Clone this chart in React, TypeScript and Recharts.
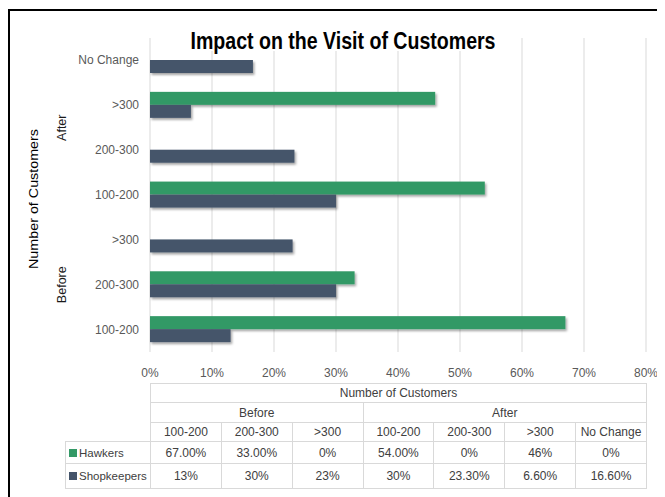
import React from 'react';
import { BarChart, Bar, XAxis, YAxis, CartesianGrid } from 'recharts';

const groups = ['Before', 'Before', 'Before', 'After', 'After', 'After', 'After'];
const categories = ['100-200', '200-300', '>300', '100-200', '200-300', '>300', 'No Change'];
const hawkers = [67, 33, 0, 54, 0, 46, 0];
const shopkeepers = [13, 30, 23, 30, 23.3, 6.6, 16.6];
const hawkersLabels = ['67.00%', '33.00%', '0%', '54.00%', '0%', '46%', '0%'];
const shopkeepersLabels = ['13%', '30%', '23%', '30%', '23.30%', '6.60%', '16.60%'];
const xTicks = [0, 10, 20, 30, 40, 50, 60, 70, 80];
const seriesNames = ['Hawkers', 'Shopkeepers'];
const groupNames = ['Before', 'After'];
const title = 'Impact on the Visit of Customers';
const axisTitle = 'Number of Customers';

const GREEN = '#339966';
const DARK = '#44546A';
const FONT = '"Liberation Sans", Arial, sans-serif';
const GRID = '#d9d9d9';

// chart data top-to-bottom (reverse of table order)
const chartData = categories
  .map((c, i) => ({
    id: `${groups[i]}|${c}`,
    category: c,
    group: groups[i],
    hawkers: hawkers[i],
    shopkeepers: shopkeepers[i],
  }))
  .reverse();

const CHART_W = 657;
const CHART_H = 380;
const MARGIN = { top: 30, right: 19, left: 0, bottom: 6 };
const Y_W = 142;
const X_H = 30;
const PLOT_W = CHART_W - MARGIN.left - MARGIN.right - Y_W;

const stash: Record<number, number> = {};

function YTick(props: any) {
  const { x, y, payload, index } = props;
  const d = chartData.find((r) => r.id === payload.value) || chartData[index];
  stash[index] = y;
  const parts: React.ReactNode[] = [
    <text key="c" x={x} y={y} dy={4} textAnchor="end" fontFamily={FONT} fontSize={12} fill="#595959">
      {d.category}
    </text>,
  ];
  const isLast = index === chartData.length - 1 || chartData[index + 1].group !== d.group;
  if (isLast) {
    let first = index;
    while (first > 0 && chartData[first - 1].group === d.group) first--;
    const mid = ((stash[first] ?? y) + y) / 2;
    const gx = x - 77;
    parts.push(
      <text
        key="g"
        x={gx}
        y={mid}
        transform={`rotate(-90, ${gx}, ${mid})`}
        textAnchor="middle"
        dominantBaseline="central"
        fontFamily={FONT}
        fontSize={12.5}
        fill="#1a1a1a"
      >
        {d.group}
      </text>
    );
  }
  if (index === chartData.length - 1) {
    const mid = ((stash[0] ?? y) + y) / 2 + 4;
    const nx = x - 106;
    parts.push(
      <text
        key="n"
        x={nx}
        y={mid}
        transform={`rotate(-90, ${nx}, ${mid})`}
        textAnchor="middle"
        dominantBaseline="central"
        fontFamily={FONT}
        fontSize={13}
        fill="#000"
        textLength={140}
        lengthAdjust="spacingAndGlyphs"
      >
        {axisTitle}
      </text>
    );
  }
  return <g>{parts}</g>;
}

const ShadowRect = (p: any) => {
  if (!p.width || p.width <= 0) return <g />;
  return <rect x={p.x} y={p.y} width={p.width} height={p.height} fill={p.fill} filter="url(#barShadow)" />;
};

const cellBorder = `1px solid ${GRID}`;
const colW = PLOT_W / categories.length;

function DataTable() {
  const td: React.CSSProperties = {
    border: cellBorder,
    padding: 0,
    textAlign: 'center',
    fontFamily: FONT,
    fontSize: 12,
    color: '#404040',
    whiteSpace: 'nowrap',
    overflow: 'hidden',
  };
  const blank: React.CSSProperties = { border: 'none', padding: 0 };
  const beforeCount = groups.filter((g) => g === groupNames[0]).length;
  const afterCount = groups.filter((g) => g === groupNames[1]).length;
  const legendCell = (name: string, color: string): React.ReactNode => (
    <td style={{ ...td, textAlign: 'left', paddingLeft: 3, fontSize: 11.5 }}>
      <span
        style={{ display: 'inline-block', width: 8, height: 8, background: color, marginRight: 2, verticalAlign: 0 }}
      />
      {name}
    </td>
  );
  return (
    <table
      style={{
        position: 'absolute',
        left: 57,
        top: 375,
        borderCollapse: 'collapse',
        tableLayout: 'fixed',
        width: 85 + PLOT_W,
      }}
    >
      <colgroup>
        <col style={{ width: 85 }} />
        {categories.map((_, i) => (
          <col key={i} style={{ width: colW }} />
        ))}
      </colgroup>
      <tbody>
        <tr style={{ height: 19 }}>
          <td style={blank} />
          <td style={td} colSpan={categories.length}>
            {axisTitle}
          </td>
        </tr>
        <tr style={{ height: 20 }}>
          <td style={blank} />
          <td style={td} colSpan={beforeCount}>
            {groupNames[0]}
          </td>
          <td style={td} colSpan={afterCount}>
            {groupNames[1]}
          </td>
        </tr>
        <tr style={{ height: 19 }}>
          <td style={blank} />
          {categories.map((c, i) => (
            <td key={i} style={td}>
              {c}
            </td>
          ))}
        </tr>
        <tr style={{ height: 22 }}>
          {legendCell(seriesNames[0], GREEN)}
          {hawkersLabels.map((v, i) => (
            <td key={i} style={td}>
              {v}
            </td>
          ))}
        </tr>
        <tr style={{ height: 25 }}>
          {legendCell(seriesNames[1], DARK)}
          {shopkeepersLabels.map((v, i) => (
            <td key={i} style={td}>
              {v}
            </td>
          ))}
        </tr>
      </tbody>
    </table>
  );
}

export default function App() {
  return (
    <div style={{ position: 'relative', width: 657, height: 489, overflow: 'hidden', background: '#fff' }}>
      <BarChart
        width={CHART_W}
        height={CHART_H}
        data={chartData}
        layout="vertical"
        margin={MARGIN}
        barSize={13}
        barGap={0}
      >
        <defs>
          <filter id="barShadow" x="-10%" y="-30%" width="130%" height="180%">
            <feDropShadow dx={1.5} dy={2} stdDeviation={1.3} floodColor="#000" floodOpacity={0.35} />
          </filter>
        </defs>
        <CartesianGrid horizontal={false} stroke={GRID} />
        <XAxis
          type="number"
          domain={[0, 80]}
          ticks={xTicks}
          height={X_H}
          axisLine={false}
          tickLine={false}
          tickSize={0}
          tickMargin={16}
          interval={0}
          tickFormatter={(v: number) => `${v}%`}
          tick={{ fontFamily: FONT, fontSize: 12, fill: '#595959' }}
        />
        <YAxis
          type="category"
          dataKey="id"
          width={Y_W}
          axisLine={false}
          tickLine={false}
          tickSize={0}
          tickMargin={11}
          interval={0}
          tick={<YTick />}
        />
        <Bar dataKey="hawkers" name={seriesNames[0]} fill={GREEN} isAnimationActive={false} shape={ShadowRect} />
        <Bar dataKey="shopkeepers" name={seriesNames[1]} fill={DARK} isAnimationActive={false} shape={ShadowRect} />
      </BarChart>
      <svg style={{ position: 'absolute', left: 170, top: 20, overflow: 'visible' }} width={330} height={32}>
        <rect x={0} y={0} width={330} height={23} fill="#fff" />
        <text
          x={165}
          y={21}
          textAnchor="middle"
          fontFamily={FONT}
          fontWeight="bold"
          fontSize={23}
          fill="#000"
          textLength={305}
          lengthAdjust="spacingAndGlyphs"
        >
          {title}
        </text>
      </svg>
      <DataTable />
      <div
        style={{
          position: 'absolute',
          left: 0,
          top: 1,
          width: 700,
          height: 600,
          borderTop: '2px solid #000',
          borderLeft: '2px solid #000',
          pointerEvents: 'none',
        }}
      />
    </div>
  );
}
